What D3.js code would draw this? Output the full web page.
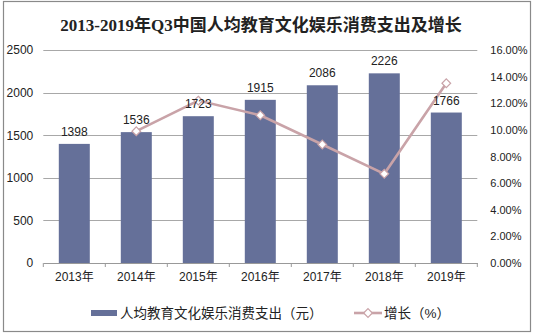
<!DOCTYPE html>
<html><head><meta charset="utf-8">
<script src="https://cdn.jsdelivr.net/npm/d3@7"></script>
<style>body{margin:0;background:#fff}svg{display:block}</style>
</head><body>
<svg id="c" width="535" height="336"></svg>
<script>
const years = ["2013年","2014年","2015年","2016年","2017年","2018年","2019年"];
const spending = [1398,1536,1723,1915,2086,2226,1766];
const growth = [null,0.099,0.122,0.111,0.089,0.067,0.135];
const leftTicks = [0,500,1000,1500,2000,2500];
const rightTicks = [0,0.02,0.04,0.06,0.08,0.10,0.12,0.14,0.16];
const title = "2013-2019年Q3中国人均教育文化娱乐消费支出及增长";
const legendBar = "人均教育文化娱乐消费支出（元）";
const legendLine = "增长（%）";

const svg = d3.select("#c");
const L = 43.3, R = 477.3, T = 50, B = 263;
const font = "'Liberation Sans', Arial, 'Noto Sans CJK SC', sans-serif";
const barColor = "#657099", lineColor = "#c9a3a8";

svg.append("rect").attr("x",3.5).attr("y",1.5).attr("width",527).attr("height",330)
  .attr("fill","#fff").attr("stroke","#8a8a8a").attr("stroke-width",1.2);

svg.append("text").attr("x",261).attr("y",31).attr("text-anchor","middle")
  .attr("font-family","'Liberation Serif','Noto Sans CJK SC',serif").attr("font-weight","bold")
  .attr("font-size",17).attr("fill","#222").text(title);

const x = d3.scaleBand().domain(years).range([L,R]).paddingInner(0.5).paddingOuter(0.25);
const xb = d3.scaleBand().domain(years).range([L,R]);
const y = d3.scaleLinear().domain([0,2500]).range([B,T]);
const y2 = d3.scaleLinear().domain([0,0.16]).range([B,T]);

// gridlines
svg.append("g").selectAll("line").data(leftTicks.filter(d=>d>0)).join("line")
  .attr("x1",L).attr("x2",R).attr("y1",d=>Math.round(y(d))+0.5).attr("y2",d=>Math.round(y(d))+0.5)
  .attr("stroke","#a8a8a8").attr("stroke-width",1);

// left axis
const ga = svg.append("g").attr("transform",`translate(${L},0)`)
  .call(d3.axisLeft(y).tickValues(leftTicks).tickSize(0).tickPadding(10).tickFormat(d3.format("d")));
ga.select(".domain").remove();
ga.selectAll("text").attr("font-family",font).attr("font-size",12).attr("fill","#222");

// right axis
const gr = svg.append("g").attr("transform",`translate(${R},0)`)
  .call(d3.axisRight(y2).tickValues(rightTicks).tickSize(0).tickPadding(13).tickFormat(d3.format(".2%")));
gr.select(".domain").remove();
gr.selectAll("text").attr("font-family",font).attr("font-size",11).attr("fill","#222");

// bars
svg.append("g").selectAll("rect").data(spending).join("rect")
  .attr("x",(d,i)=>x(years[i])).attr("width",x.bandwidth())
  .attr("y",d=>y(d)).attr("height",d=>B-y(d)).attr("fill",barColor);

// x axis
const gx = svg.append("g").attr("transform",`translate(0,${B})`)
  .call(d3.axisBottom(xb).tickSize(0).tickPadding(9));
gx.select(".domain").attr("stroke","#999");
gx.selectAll("text").attr("font-family",font).attr("font-size",12).attr("fill","#222");
svg.append("g").selectAll("line").data(years.concat(["end"])).join("line")
  .attr("x1",(d,i)=>L+i*xb.step()).attr("x2",(d,i)=>L+i*xb.step())
  .attr("y1",B).attr("y2",B+4).attr("stroke","#999");

// line
const pts = growth.map((g,i)=>({g,i})).filter(d=>d.g!=null);
const cx = d=>xb(years[d.i])+xb.bandwidth()/2;
svg.append("path").datum(pts)
  .attr("d",d3.line().x(cx).y(d=>y2(d.g)))
  .attr("fill","none").attr("stroke",lineColor).attr("stroke-width",2.6);
const diamond = d3.symbol().type(d3.symbolDiamond2).size(48);
svg.append("g").selectAll("path").data(pts).join("path")
  .attr("transform",d=>`translate(${cx(d)},${y2(d.g)})`)
  .attr("d",diamond).attr("fill","#fff").attr("stroke",lineColor).attr("stroke-width",1.2);

// bar labels
svg.append("g").selectAll("text").data(spending).join("text")
  .attr("x",(d,i)=>xb(years[i])+xb.bandwidth()/2).attr("y",d=>y(d)-8)
  .attr("text-anchor","middle").attr("font-family",font).attr("font-size",12).attr("fill","#222")
  .text(d=>d);

// legend
svg.append("rect").attr("x",91).attr("y",310).attr("width",26).attr("height",6).attr("fill",barColor);
svg.append("text").attr("x",120).attr("y",318).attr("font-family",font).attr("font-size",13.5)
  .attr("fill","#222").text(legendBar);
svg.append("line").attr("x1",354).attr("x2",382).attr("y1",313).attr("y2",313)
  .attr("stroke",lineColor).attr("stroke-width",2.6);
svg.append("path").attr("transform","translate(368,313)").attr("d",diamond)
  .attr("fill","#fff").attr("stroke",lineColor).attr("stroke-width",1.2);
svg.append("text").attr("x",384).attr("y",318).attr("font-family",font).attr("font-size",13.5)
  .attr("fill","#222").text(legendLine);
</script>
</body></html>
